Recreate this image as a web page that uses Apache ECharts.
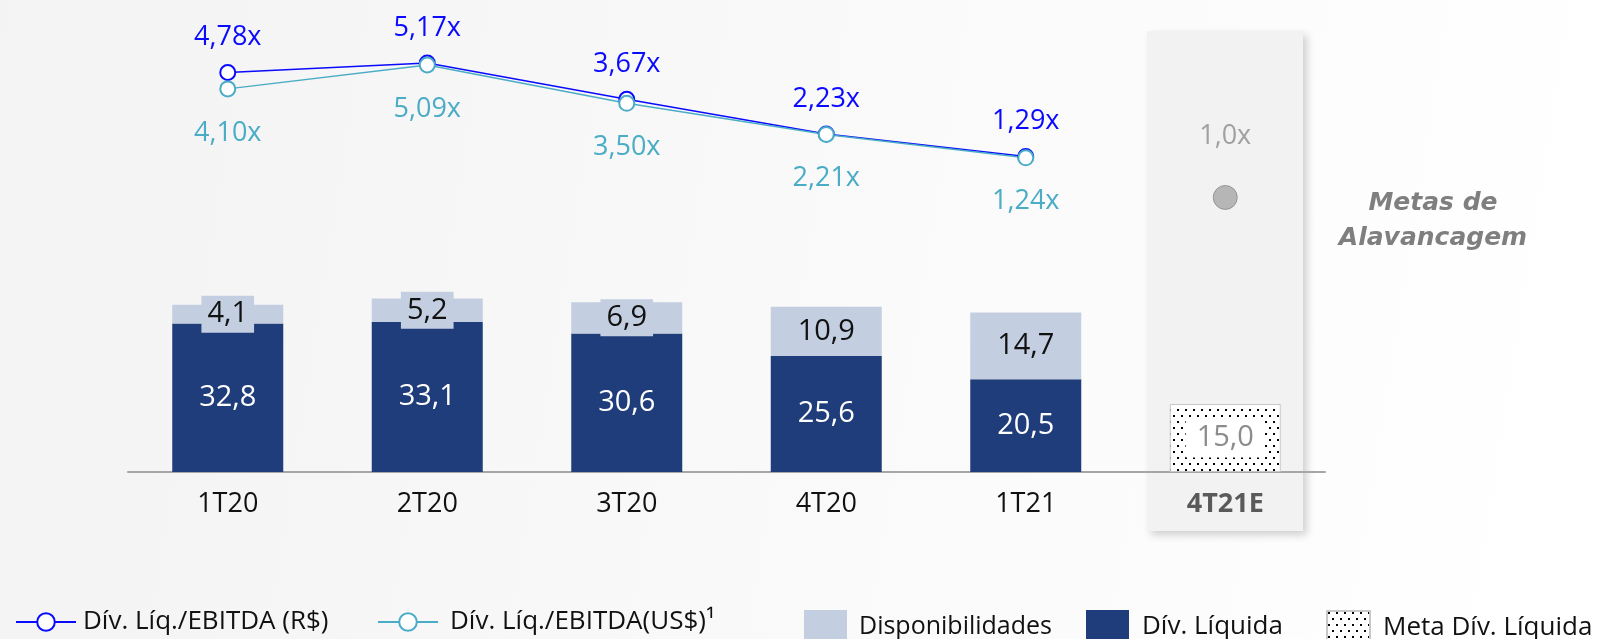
<!DOCTYPE html>
<html>
<head>
<meta charset="utf-8">
<script src="https://cdn.jsdelivr.net/npm/echarts@6/dist/echarts.min.js"></script>
<style>
  html, body { margin: 0; padding: 0; }
  #main_chart { width: 1606px; height: 639px; }
</style>
</head>
<body>
<div id="main_chart"></div>
<script>
// dados
const categories = ['1T20', '2T20', '3T20', '4T20', '1T21', '4T21E'];
const divLiquida = [32.8, 33.1, 30.6, 25.6, 20.5, '-'];
const disponibilidades = [4.1, 5.2, 6.9, 10.9, 14.7, '-'];
const metaDivLiquida = ['-', '-', '-', '-', '-', 15.0];
const alavancagemReal = [4.78, 5.17, 3.67, 2.23, 1.29, '-'];
const alavancagemDolar = [4.10, 5.09, 3.50, 2.21, 1.24, '-'];
const metaAlavancagem = ['-', '-', '-', '-', '-', 1.0];

const FONT = 'Open Sans';
const NAVY = '#1f3d7a';
const LIGHT = '#c3cee0';
const BLUE = '#0a0aff';
const TEAL = '#4bacc6';

// pattern pontilhado pra meta
function dotPattern() {
    var c = document.createElement('canvas');
    c.width = 8; c.height = 12;
    var ctx = c.getContext('2d');
    ctx.fillStyle = '#ffffff';
    ctx.fillRect(0, 0, 8, 12);
    ctx.fillStyle = '#000000';
    ctx.fillRect(1, 1, 2, 2);
    ctx.fillRect(5, 7, 2, 2);
    return { image: c, repeat: 'repeat' };
}

function fmt(v, suffix) {
    return v.toFixed(suffix ? 2 : 1).replace('.', ',') + (suffix || '');
}

var chart = echarts.init(document.getElementById('main_chart'));

function legendItem(name, left, opts) {
    return Object.assign({
        left: left, top: 605,
        orient: 'horizontal',
        selectedMode: false,
        data: [name],
        textStyle: { fontFamily: FONT, fontSize: 26, color: '#111111', padding: [0, 0, 0, 8] }
    }, opts);
}

var option = {
    animation: false,
    backgroundColor: new echarts.graphic.LinearGradient(0, 0, 1, 0.4, [
        { offset: 0, color: '#f3f3f4' },
        { offset: 1, color: '#ffffff' }
    ]),
    grid: { left: 128, right: 281, top: 19, bottom: 167 },
    legend: [
        legendItem('Dív. Líq./EBITDA (R$)', 10, { top: 604, itemWidth: 60, itemHeight: 22,
            textStyle: { fontFamily: FONT, fontSize: 26, color: '#111111', padding: [0, 0, 0, 2] } }),
        legendItem('Dív. Líq./EBITDA(US$)¹', 372, { top: 604, itemWidth: 60, itemHeight: 22,
            textStyle: { fontFamily: FONT, fontSize: 26, color: '#111111', padding: [0, 0, 0, 7] } }),
        legendItem('Disponibilidades', 799, { icon: 'rect', itemWidth: 43, itemHeight: 34,
            textStyle: { fontFamily: FONT, fontSize: 25, color: '#111111', padding: [0, 0, 0, 7] } }),
        legendItem('Dív. Líquida', 1081, { icon: 'rect', itemWidth: 43, itemHeight: 34 }),
        legendItem('Meta Dív. Líquida', 1321, { icon: 'rect', itemWidth: 43, itemHeight: 34 })
    ],
    graphic: [
        {
            type: 'rect', z: -10,
            shape: { x: 1147, y: 31, width: 156, height: 500 },
            style: { fill: '#f2f2f2', shadowBlur: 8, shadowOffsetX: 4, shadowOffsetY: 4, shadowColor: 'rgba(0,0,0,0.18)' }
        },
        {
            type: 'text', x: 1433, y: 186,
            style: {
                text: 'Metas de\nAlavancagem', align: 'center', lineHeight: 35,
                font: 'italic bold 25px "DejaVu Sans"', fill: '#7f7f7f'
            }
        }
    ],
    xAxis: {
        type: 'category',
        data: categories,
        axisTick: { show: false },
        axisLine: { lineStyle: { color: '#a6a6a6', width: 2 } },
        axisLabel: {
            margin: 19,
            fontFamily: FONT, fontSize: 27, color: '#111111',
            formatter: function (v, i) {
                return i === categories.length - 1 ? '{e|' + v + '}' : v;
            },
            rich: { e: { fontFamily: FONT, fontSize: 27, fontWeight: 'bold', color: '#5a5a5a' } }
        }
    },
    yAxis: [
        { type: 'value', min: 0, max: 100, show: false, splitLine: { show: false } },
        { type: 'value', min: -11.8, max: 7.0, show: false, splitLine: { show: false } },
        { type: 'value', min: 0, max: 1.65, show: false, splitLine: { show: false } }
    ],
    series: [
        {
            name: 'Dív. Líquida', type: 'bar', stack: 'div', barWidth: 111,
            data: divLiquida,
            itemStyle: { color: NAVY },
            label: { show: true, position: 'inside', fontFamily: FONT, fontSize: 29, color: '#ffffff',
                formatter: function (p) { return fmt(p.value); } }
        },
        {
            name: 'Disponibilidades', type: 'bar', stack: 'div', barWidth: 111,
            data: disponibilidades,
            itemStyle: { color: LIGHT },
            label: { show: true, position: 'inside', fontFamily: FONT, fontSize: 29, color: '#111111',
                backgroundColor: LIGHT, padding: [5, 6, 3, 6],
                formatter: function (p) { return fmt(p.value); } }
        },
        {
            name: 'Meta Dív. Líquida', type: 'bar', stack: 'div', barWidth: 111,
            data: metaDivLiquida,
            itemStyle: { color: dotPattern(), borderColor: '#c8c8c8', borderWidth: 1 },
            label: { show: true, position: 'inside', fontFamily: FONT, fontSize: 29, color: '#8c8c8c',
                backgroundColor: '#ffffff', padding: [6, 11, 4, 11],
                formatter: function (p) { return fmt(p.value); } }
        },
        {
            name: 'Dív. Líq./EBITDA (R$)', type: 'line', yAxisIndex: 1,
            data: alavancagemReal,
            symbol: 'emptyCircle', symbolSize: 15,
            lineStyle: { color: BLUE, width: 1.5 },
            itemStyle: { color: BLUE, borderWidth: 2 },
            label: { show: true, position: 'top', distance: 13, fontFamily: FONT, fontSize: 27, color: BLUE,
                formatter: function (p) { return fmt(p.value, 'x'); } }
        },
        {
            name: 'Dív. Líq./EBITDA(US$)¹', type: 'line', yAxisIndex: 1,
            data: alavancagemDolar,
            symbol: 'emptyCircle', symbolSize: 15,
            lineStyle: { color: TEAL, width: 1.5 },
            itemStyle: { color: TEAL, borderWidth: 2 },
            label: { show: true, position: 'bottom', distance: 22, fontFamily: FONT, fontSize: 27, color: TEAL,
                formatter: function (p) { return fmt(p.value, 'x'); } }
        },
        {
            name: 'Meta Alavancagem', type: 'scatter', yAxisIndex: 2,
            data: metaAlavancagem,
            symbolSize: 24,
            itemStyle: { color: '#a6a6a6', borderColor: '#8a8a8a', borderWidth: 1 },
            label: { show: true, position: 'top', distance: 35, fontFamily: FONT, fontSize: 27, color: '#8c8c8c',
                formatter: function (p) { return p.value.toFixed(1).replace('.', ',') + 'x'; } }
        }
    ]
};

chart.setOption(option);
</script>
</body>
</html>
